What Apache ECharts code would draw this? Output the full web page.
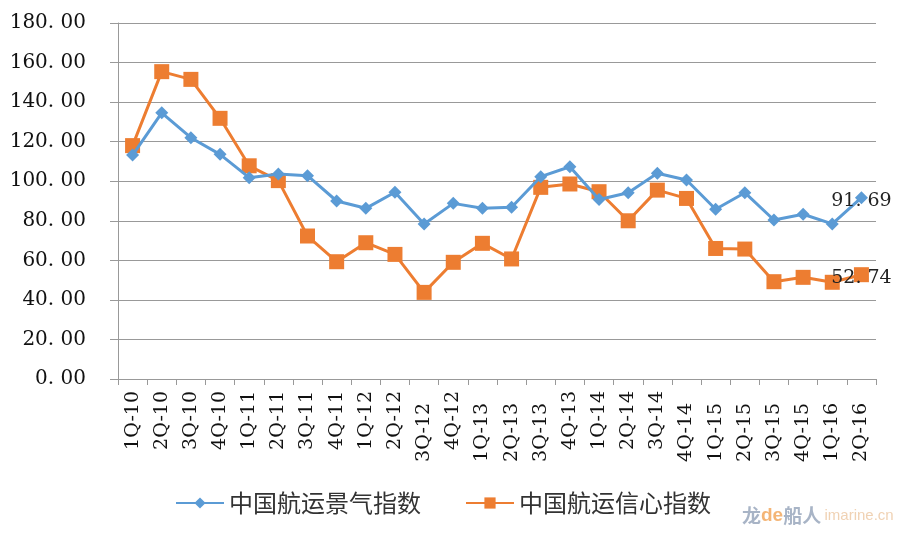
<!DOCTYPE html>
<html><head><meta charset="utf-8">
<script src="https://cdn.jsdelivr.net/npm/echarts@6/dist/echarts.min.js"></script>
<style>html,body{margin:0;padding:0;background:#fff}#c{width:900px;height:536px}</style>
</head><body><div id="c"></div>
<script>
const categories = ['1Q-10','2Q-10','3Q-10','4Q-10','1Q-11','2Q-11','3Q-11','4Q-11','1Q-12','2Q-12','3Q-12','4Q-12','1Q-13','2Q-13','3Q-13','4Q-13','1Q-14','2Q-14','3Q-14','4Q-14','1Q-15','2Q-15','3Q-15','4Q-15','1Q-16','2Q-16'];
const prosperity = [113.2,134.6,122.0,113.6,101.8,103.6,102.8,90.0,86.3,94.4,78.4,88.8,86.3,86.8,102.3,107.3,90.8,94.2,104.0,100.6,85.8,94.2,80.4,83.3,78.4,91.69];
const confidence = [118.0,155.4,151.5,131.8,107.8,100.3,72.3,59.3,68.9,63.0,43.8,59.0,68.6,60.7,96.9,98.6,94.7,80.0,95.5,91.3,66.0,65.7,49.2,51.4,48.9,52.74];
const seriesNames = ['中国航运景气指数','中国航运信心指数'];
const lowLabels = ['3Q-12','1Q-13','2Q-13','3Q-13','4Q-14','1Q-15','2Q-15','3Q-15','4Q-15','1Q-16','2Q-16'];

const chart = echarts.init(document.getElementById('c'));
const serif = '"DejaVu Serif","Liberation Serif",serif';
const lastLabel = (n) => ({
  show: true,
  position: 'inside',
  offset: [0, 3],
  fontFamily: serif, fontSize: 19, color: '#222',
  formatter: p => p.dataIndex === n - 1 ? p.value.toFixed(2).replace('.', '. ') : ''
});
chart.setOption({
  animation: false,
  grid: { left: 118, right: 24, top: 23, bottom: 157, containLabel: false },
  legend: {
    bottom: 16, left: 170,
    itemGap: 44, itemWidth: 48, itemHeight: 14,
    textStyle: { fontFamily: '"Noto Sans CJK SC",sans-serif', fontSize: 24, color: '#333' },
    data: seriesNames
  },
  xAxis: {
    type: 'category', data: categories, boundaryGap: true,
    axisLine: { lineStyle: { color: '#999', width: 1 } },
    axisTick: { show: true, length: 6, lineStyle: { color: '#999' } },
    axisLabel: {
      rotate: 90, interval: 0, margin: 12,
      fontFamily: serif, fontSize: 19, color: '#111',
      formatter: v => lowLabels.includes(v) ? '{n|' + v + '}{s|\u00a0}' : '{n|' + v + '}',
      rich: {
        n: { fontFamily: serif, fontSize: 19, color: '#111' },
        s: { fontFamily: serif, fontSize: 19, width: 12, color: 'rgba(0,0,0,0)' }
      }
    }
  },
  yAxis: {
    type: 'value', min: 0, max: 180, interval: 20,
    axisLine: { show: true, lineStyle: { color: '#999' } },
    axisTick: { show: true, length: 8, lineStyle: { color: '#999' } },
    splitLine: { lineStyle: { color: '#999', width: 1 } },
    axisLabel: {
      margin: 32, fontFamily: serif, fontSize: 20, color: '#111',
      formatter: v => v.toFixed(2).replace('.', '. ')
    }
  },
  series: [
    {
      name: seriesNames[0], type: 'line', data: prosperity,
      symbol: 'diamond', symbolSize: 13,
      itemStyle: { color: '#5B9BD5' },
      lineStyle: { color: '#5B9BD5', width: 3 },
      label: lastLabel(prosperity.length),
      z: 3
    },
    {
      name: seriesNames[1], type: 'line', data: confidence,
      symbol: 'rect', symbolSize: 15,
      itemStyle: { color: '#ED7D31' },
      lineStyle: { color: '#ED7D31', width: 3 },
      label: lastLabel(confidence.length),
      z: 2
    }
  ],
  graphic: [
    { type: 'text', left: 742, top: 506, style: {
      text: '{a|龙}{b|de}{a|船人} {c|imarine.cn}',
      rich: {
        a: { fontSize: 19, fontWeight: 'bold', fill: 'rgba(110,130,160,0.6)', fontFamily: '"Noto Sans CJK SC",sans-serif' },
        b: { fontSize: 19, fontWeight: 'bold', fill: 'rgba(240,150,60,0.7)', fontFamily: 'sans-serif' },
        c: { fontSize: 15, fill: 'rgba(230,180,130,0.6)', fontFamily: 'sans-serif' }
      }
    } }
  ]
});
</script></body></html>
